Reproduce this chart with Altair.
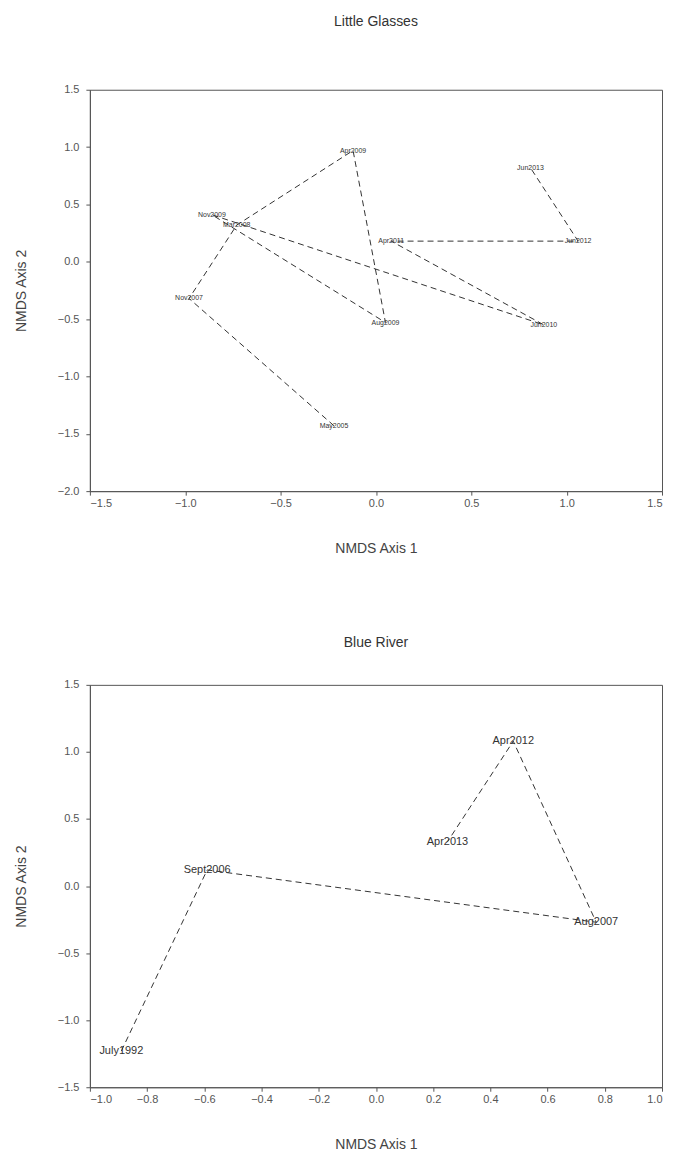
import altair as alt
import pandas as pd

FONT = "Liberation Sans"

# Little Glasses
lg_labels = ["May2005", "Nov2007", "Mar2008", "Apr2009", "Aug2009",
             "Nov2009", "Jun2010", "Apr2011", "Jun2012", "Jun2013"]
lg_x = [-0.22, -0.98, -0.73, -0.12, 0.05, -0.86, 0.88, 0.08, 1.06, 0.81]
lg_y = [-1.43, -0.32, 0.32, 0.97, -0.53, 0.41, -0.55, 0.18, 0.18, 0.82]

# Blue River
br_labels = ["July1992", "Sept2006", "Aug2007", "Apr2012", "Apr2013"]
br_x = [-0.89, -0.59, 0.77, 0.48, 0.25]
br_y = [-1.23, 0.12, -0.27, 1.08, 0.33]

lg_xticks = [-1.5, -1.0, -0.5, 0.0, 0.5, 1.0, 1.5]
lg_yticks = [-2.0, -1.5, -1.0, -0.5, 0.0, 0.5, 1.0, 1.5]
br_xticks = [-1.0, -0.8, -0.6, -0.4, -0.2, 0.0, 0.2, 0.4, 0.6, 0.8, 1.0]
br_yticks = [-1.5, -1.0, -0.5, 0.0, 0.5, 1.0, 1.5]

lg_df = pd.DataFrame({"label": lg_labels, "x": lg_x, "y": lg_y,
                      "seq": list(range(len(lg_labels)))})
br_df = pd.DataFrame({"label": br_labels, "x": br_x, "y": br_y,
                      "seq": list(range(len(br_labels)))})


def panel(df, title, offset, xdom, ydom, xticks, yticks, fsize, h):
    x = alt.X("x:Q", scale=alt.Scale(domain=xdom, nice=False, zero=False),
              axis=alt.Axis(values=xticks, format=".1f", title="NMDS Axis 1"))
    y = alt.Y("y:Q", scale=alt.Scale(domain=ydom, nice=False, zero=False),
              axis=alt.Axis(values=yticks, format=".1f", title="NMDS Axis 2"))
    line = alt.Chart(df).mark_line(
        color="#333333", strokeWidth=1, strokeDash=[6, 4]
    ).encode(x=x, y=y, order=alt.Order("seq:Q"))
    text = alt.Chart(df).mark_text(
        font=FONT, fontSize=fsize, color="#333333", align="center", baseline="middle"
    ).encode(x=x, y=y, text="label:N")
    return alt.layer(line, text).properties(
        width=573, height=h,
        title=alt.TitleParams(title, fontSize=14, fontWeight="normal", font=FONT,
                              color="#333333", offset=offset, anchor="middle",
                              frame="group"),
    )


top = panel(lg_df, "Little Glasses", 55, [-1.5, 1.5], [-2.0, 1.5],
            lg_xticks, lg_yticks, 7, 402)
bottom = panel(br_df, "Blue River", 29, [-1.0, 1.0], [-1.5, 1.5],
               br_xticks, br_yticks, 11, 403)

chart = alt.vconcat(top, bottom, spacing=79).configure_view(
    stroke="#555555", strokeWidth=1
).configure_axis(
    grid=False,
    labelFont=FONT, labelFontSize=11, labelColor="#555555",
    tickColor="#555555", tickSize=4, domainColor="#555555",
    titleFont=FONT, titleFontSize=14, titleFontWeight="normal",
    titleColor="#444444",
).configure_axisY(titlePadding=29, labelPadding=7).configure_axisX(
    titlePadding=33, labelPadding=2)

chart.save("out.html", embed_options={"renderer": "svg", "actions": False})
